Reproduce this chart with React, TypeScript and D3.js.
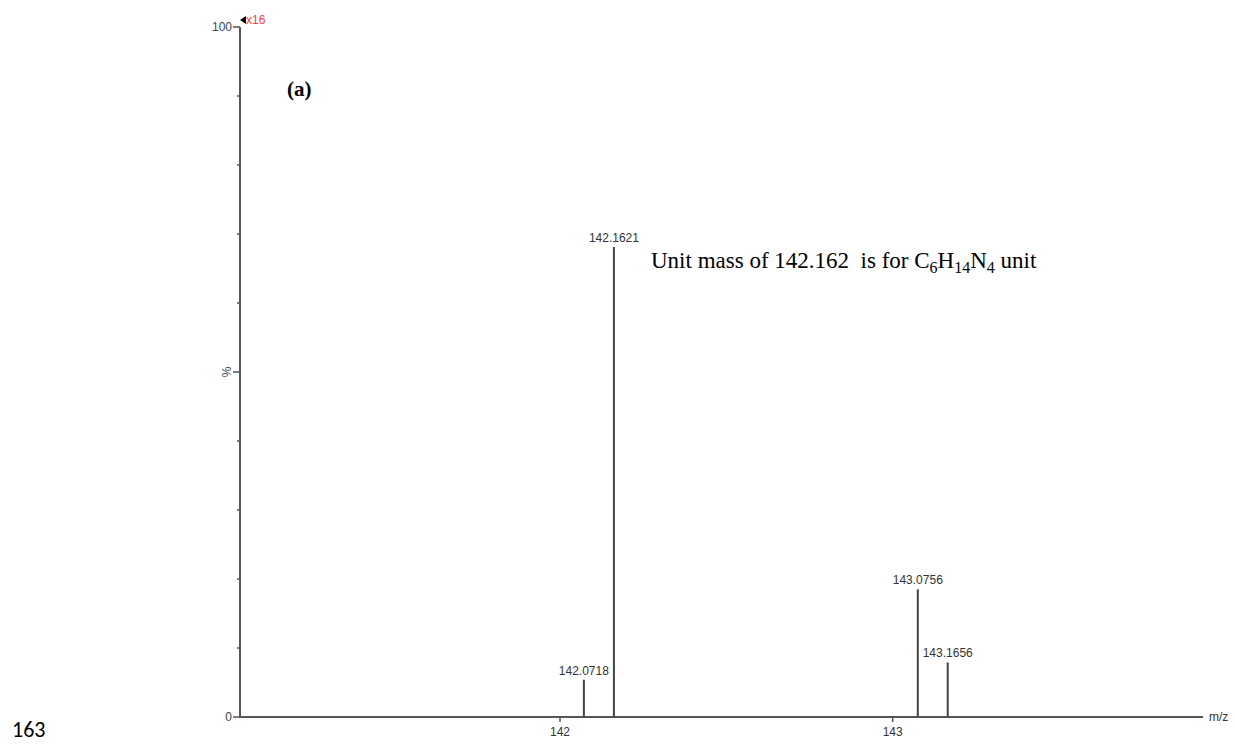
import * as d3 from "d3";
import { useEffect, useRef } from "react";

// peak positions (m/z) and relative intensities (%)
const peakMz = [142.0718, 142.1621, 143.0756, 143.1656];
const peakIntensity = [5.4, 68.1, 18.5, 7.9];
const peakLabels = ["142.0718", "142.1621", "143.0756", "143.1656"];
const xTicks = [142, 143];
const yMinorTicks = [10, 20, 30, 40, 50, 60, 70, 80, 90];

const W = 1235;
const H = 745;

const App = () => {
  const ref = useRef<SVGSVGElement>(null);

  useEffect(() => {
    const svg = d3.select(ref.current);
    svg.selectAll("*").remove();

    const x = d3.scaleLinear().domain([141.038, 143.933]).range([240, 1203]);
    const y = d3.scaleLinear().domain([0, 100]).range([717, 27]);
    const axisColor = "#555";
    const labelFont = "'Liberation Sans', Arial, sans-serif";
    const fs = 12;

    // Y axis
    svg.append("line")
      .attr("x1", x(141.038)).attr("x2", x(141.038))
      .attr("y1", y(100)).attr("y2", y(0))
      .attr("stroke", axisColor).attr("stroke-width", 2);

    svg.selectAll("line.ytick")
      .data(yMinorTicks)
      .join("line")
      .attr("class", "ytick")
      .attr("x1", (d) => (d === 50 ? 233 : 237)).attr("x2", 240)
      .attr("y1", (d) => y(d)).attr("y2", (d) => y(d))
      .attr("stroke", axisColor).attr("stroke-width", 1.5);

    // 100 and 0 ticks
    [100, 0].forEach((v) => {
      svg.append("line")
        .attr("x1", 233).attr("x2", 240)
        .attr("y1", y(v)).attr("y2", y(v))
        .attr("stroke", axisColor).attr("stroke-width", 1.5);
      svg.append("text")
        .attr("x", 232).attr("y", y(v) + 4)
        .attr("text-anchor", "end")
        .attr("font-family", labelFont).attr("font-size", fs)
        .attr("fill", "#3a4656")
        .text(v);
    });

    svg.append("text")
      .attr("transform", `translate(231,${y(50)}) rotate(-90)`)
      .attr("text-anchor", "middle")
      .attr("font-family", labelFont).attr("font-size", fs)
      .attr("fill", "#3a4656")
      .text("%");

    // X axis
    svg.append("line")
      .attr("x1", 239).attr("x2", x(143.933))
      .attr("y1", y(0)).attr("y2", y(0))
      .attr("stroke", axisColor).attr("stroke-width", 2);

    svg.selectAll("line.xtick")
      .data(xTicks)
      .join("line")
      .attr("class", "xtick")
      .attr("x1", (d) => x(d)).attr("x2", (d) => x(d))
      .attr("y1", y(0)).attr("y2", y(0) + 5)
      .attr("stroke", axisColor).attr("stroke-width", 1.5);

    svg.selectAll("text.xlabel")
      .data(xTicks)
      .join("text")
      .attr("class", "xlabel")
      .attr("x", (d) => x(d)).attr("y", y(0) + 19)
      .attr("text-anchor", "middle")
      .attr("font-family", labelFont).attr("font-size", fs)
      .attr("fill", "#333")
      .text((d) => d);

    svg.append("text")
      .attr("x", 1209).attr("y", y(0) + 4)
      .attr("font-family", labelFont).attr("font-size", fs)
      .attr("fill", "#333")
      .text("m/z");

    // Peaks
    svg.selectAll("line.peak")
      .data(peakMz)
      .join("line")
      .attr("class", "peak")
      .attr("x1", (d) => x(d)).attr("x2", (d) => x(d))
      .attr("y1", y(0)).attr("y2", (d, i) => y(peakIntensity[i]))
      .attr("stroke", "#444").attr("stroke-width", 2);

    svg.selectAll("text.plabel")
      .data(peakMz)
      .join("text")
      .attr("class", "plabel")
      .attr("x", (d) => x(d)).attr("y", (d, i) => y(peakIntensity[i]) - 5)
      .attr("text-anchor", "middle")
      .attr("font-family", labelFont).attr("font-size", fs)
      .attr("fill", "#333")
      .text((d, i) => peakLabels[i]);

    // magnification marker
    svg.append("path")
      .attr("d", "M240,20 L246,16 L246,24 Z")
      .attr("fill", "#000");
    svg.append("text")
      .attr("x", 246).attr("y", 24)
      .attr("font-family", labelFont).attr("font-size", 12)
      .attr("fill", "#ff3a3a")
      .text("x16");

    // panel label
    svg.append("text")
      .attr("x", 287).attr("y", 96)
      .attr("font-family", "'Liberation Serif', 'Times New Roman', serif")
      .attr("font-weight", "bold").attr("font-size", 21)
      .attr("fill", "#000")
      .text("(a)");

    // annotation
    const note = svg.append("text")
      .attr("x", 651).attr("y", 268)
      .attr("font-family", "'Liberation Serif', 'Times New Roman', serif")
      .attr("font-size", 23)
      .attr("fill", "#000")
      .attr("xml:space", "preserve")
      .style("white-space", "pre");
    note.append("tspan").text("Unit mass of 142.162  is for C");
    note.append("tspan").attr("font-size", 16).attr("dy", 5).text("6");
    note.append("tspan").attr("dy", -5).text("H");
    note.append("tspan").attr("font-size", 16).attr("dy", 5).text("14");
    note.append("tspan").attr("dy", -5).text("N");
    note.append("tspan").attr("font-size", 16).attr("dy", 5).text("4");
    note.append("tspan").attr("dy", -5).text(" unit");

    // page number
    svg.append("text")
      .attr("x", 12).attr("y", 737)
      .attr("font-family", "Carlito, 'Open Sans', sans-serif")
      .attr("font-size", 22)
      .attr("fill", "#000")
      .text("163");
  }, []);

  return (
    <svg
      ref={ref}
      width={W}
      height={H}
      style={{ position: "absolute", left: 0, top: 0, background: "#fff" }}
    />
  );
};

export default App;
